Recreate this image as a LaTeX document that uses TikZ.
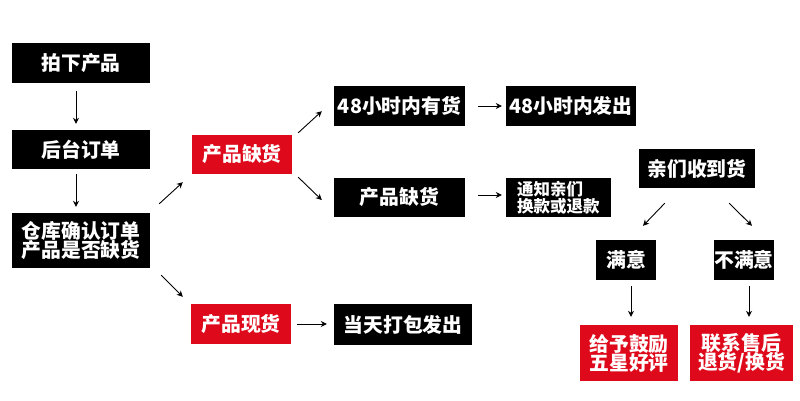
\documentclass[tikz,border=0pt]{standalone}
\usepackage{fontspec}
\newfontfamily\cjk{Noto Sans CJK SC}
\usetikzlibrary{arrows.meta}

\definecolor{BoxColor}{RGB}{0,0,0}
\definecolor{AlertColor}{RGB}{222,10,28}

\begin{document}
\begin{tikzpicture}[x=1pt,y=-1pt,
	box/.style={fill=BoxColor,text=white,inner sep=0pt,align=center,font=\cjk\bfseries\fontsize{19.8}{22}\selectfont},
	alert/.style={box,fill=AlertColor},
	arr/.style={-{Stealth[length=6pt,width=6pt]},line width=0.9pt}]
	\useasboundingbox (0,0) rectangle (800,400);
	% left column
	\node [box,minimum width=138,minimum height=40] (pai) at (81,63) {拍下产品};
	\node [box,minimum width=138,minimum height=39] (hou) at (81,149.5) {后台订单};
	\node [box,minimum width=138,minimum height=55] (cang) at (81,240.5) {仓库确认订单\\[-3pt]产品是否缺货};
	% stock check
	\node [alert,minimum width=100,minimum height=39] (que) at (242,154.5) {产品缺货};
	\node [alert,minimum width=100,minimum height=40] (xian) at (241,324) {产品现货};
	\node [box,minimum width=131,minimum height=40] (youhuo) at (399.5,106) {48小时内有货};
	\node [box,minimum width=131,minimum height=39] (que2) at (399.5,197.5) {产品缺货};
	\node [box,minimum width=138,minimum height=41] (dabao) at (403,324.5) {当天打包发出};
	\node [box,minimum width=130,minimum height=40] (fachu) at (571,106) {48小时内发出};
	\node [box,minimum width=105,minimum height=39,align=left,text width=93,inner sep=0pt,
		font=\cjk\bfseries\fontsize{16.5}{17}\selectfont] (tongzhi) at (558.5,197.5) {\hspace*{5pt}通知亲们\\\hspace*{5pt}换款或退款};
	% after delivery
	\node [box,minimum width=116,minimum height=39] (shoudao) at (697,168.5) {亲们收到货};
	\node [box,minimum width=60,minimum height=40] (manyi) at (626,260) {满意};
	\node [box,minimum width=60,minimum height=40] (bumanyi) at (744,260) {不满意};
	\node [alert,minimum width=98,minimum height=56] (haoping) at (629,353) {给予鼓励\\[-3pt]五星好评};
	\node [alert,minimum width=103,minimum height=56] (shouhou) at (741.5,353) {联系售后\\[-3pt]退货/换货};

	\draw [arr,shorten <=8pt,shorten >=6pt] ([xshift=-5]pai.south) -- ([xshift=-5]hou.north);
	\draw [arr,shorten <=5pt,shorten >=6pt] ([xshift=-5]hou.south) -- ([xshift=-5]cang.north);
	\draw [arr] ([shift={(9,-9)}]cang.north east) -- ([shift={(-9,8)}]que.south west);
	\draw [arr] ([shift={(11,7)}]cang.south east) -- ([shift={(-8,-7)}]xian.north west);
	\draw [arr] ([shift={(6,-2)}]que.north east) -- ([shift={(-12,-15)}]youhuo.south west);
	\draw [arr] ([shift={(6,3)}]que.south east) -- ([shift={(-12,2.5)}]que2.west);
	\draw [arr,shorten <=6pt,shorten >=7pt] (xian.east) -- (xian.east -| dabao.west);
	\draw [arr,shorten <=13pt,shorten >=4pt] (youhuo.east) -- (fachu.west);
	\draw [arr,shorten <=13pt,shorten >=4pt] ([yshift=2.5]que2.east) -- ([yshift=2.5]tongzhi.west);
	\draw [arr] ([shift={(26,15)}]shoudao.south west) -- ([shift={(17,-14)}]manyi.north);
	\draw [arr] ([shift={(-26,15)}]shoudao.south east) -- ([shift={(8,-14)}]bumanyi.north);
	\draw [arr,shorten <=6pt,shorten >=8pt] ([xshift=5]manyi.south) -- ([xshift=5]manyi.south |- haoping.north);
	\draw [arr,shorten <=6pt,shorten >=8pt] ([xshift=5]bumanyi.south) -- ([xshift=5]bumanyi.south |- shouhou.north);
\end{tikzpicture}
\end{document}
